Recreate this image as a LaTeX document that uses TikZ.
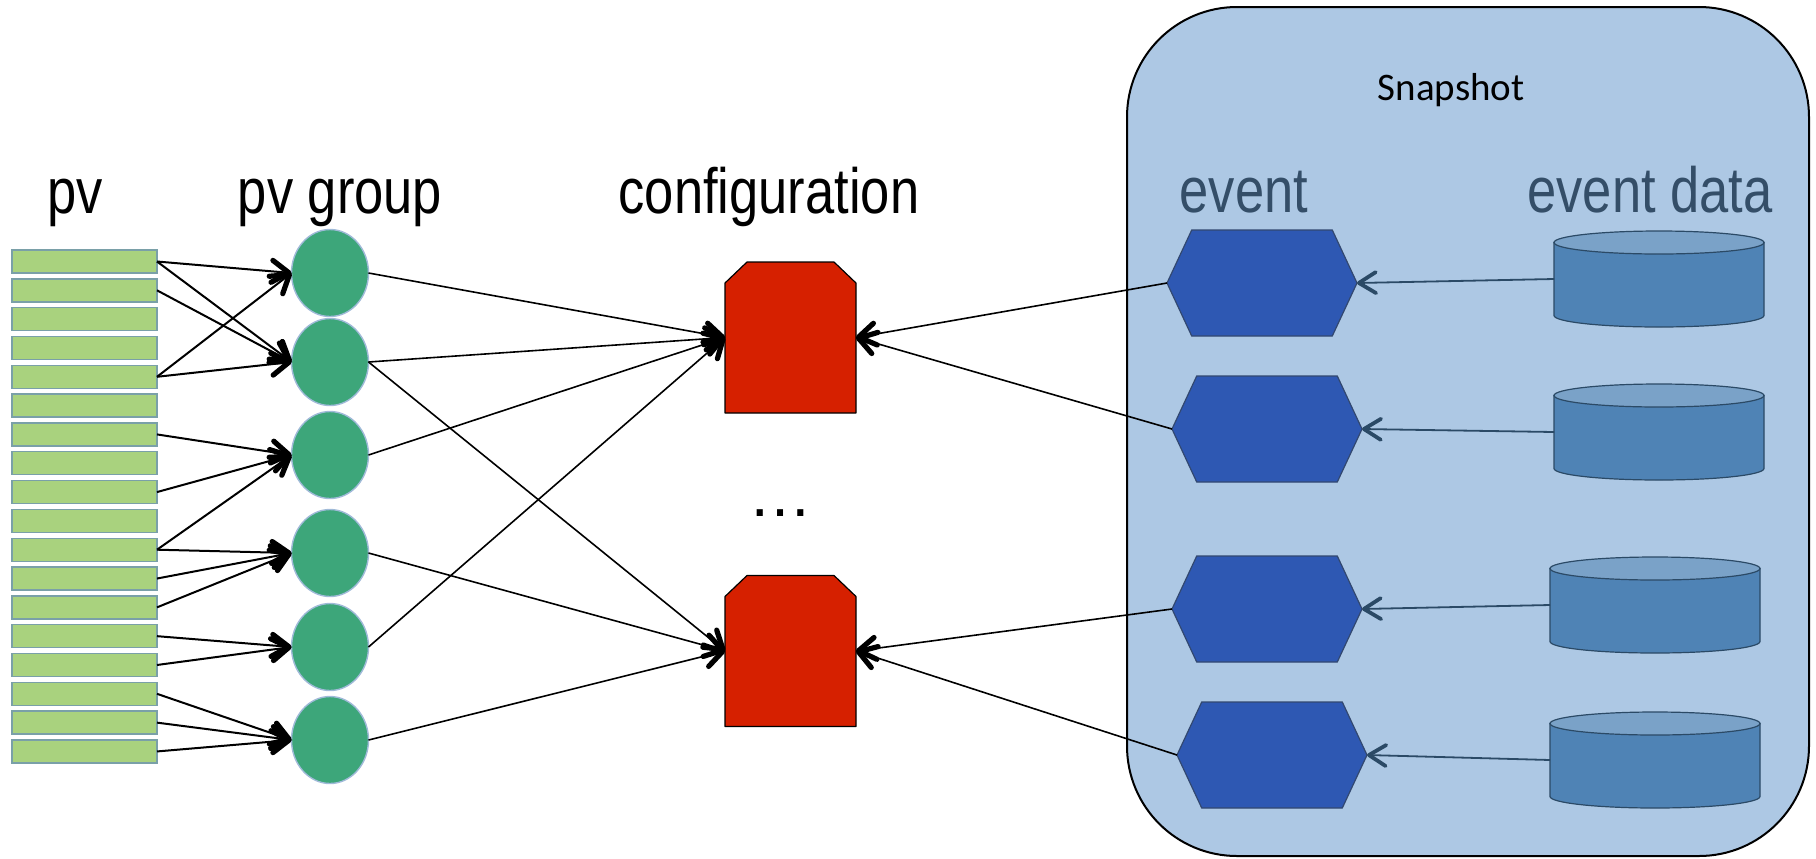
\documentclass[tikz,border=0pt]{standalone}
\usepackage{fontspec}
\usetikzlibrary{arrows.meta,shapes.geometric,shapes.symbols}
\newfontfamily\labelfont{Liberation Sans}[FakeStretch=0.82]
\newfontfamily\plainfont{Liberation Sans}
\newfontfamily\boxfont{Carlito}
\definecolor{pvfill}{RGB}{169,210,126}
\definecolor{pvborder}{RGB}{122,160,168}
\definecolor{groupfill}{RGB}{61,166,122}
\definecolor{groupborder}{RGB}{160,186,216}
\definecolor{conffill}{RGB}{214,32,0}
\definecolor{snapfill}{RGB}{173,200,228}
\definecolor{eventfill}{RGB}{46,88,179}
\definecolor{eventborder}{RGB}{50,72,112}
\definecolor{databody}{RGB}{79,131,181}
\definecolor{dataend}{RGB}{122,162,200}
\definecolor{databorder}{RGB}{43,74,102}
\definecolor{eventtext}{RGB}{52,78,104}
\tikzset{
  pvbar/.style={draw=pvborder, fill=pvfill, line width=0.7pt, minimum width=72.5pt, minimum height=11.5pt, inner sep=0pt, outer sep=0pt},
  group/.style={ellipse, draw=groupborder, fill=groupfill, line width=0.7pt, minimum width=38.5pt, minimum height=43.5pt, inner sep=0pt, outer sep=0pt},
  config/.style={rectangle, minimum width=65.5pt, minimum height=75.5pt, inner sep=0pt, outer sep=0pt},
  configshape/.style={draw=black, fill=conffill, line width=0.6pt, line join=round},
  event/.style={signal, signal to=east and west, signal pointer angle=130, draw=eventborder, fill=eventfill, line width=0.6pt, minimum width=95pt, minimum height=53pt, inner sep=0pt, outer sep=0pt},
  data/.style={rectangle, minimum width=105pt, minimum height=48pt, inner sep=0pt, outer sep=0pt},
  datashape/.style={draw=databorder, line width=0.6pt},
  toplabel/.style={anchor=base, font=\labelfont\fontsize{32}{38}\selectfont},
  pvlink/.style={line width=1pt, -{Straight Barb[length=8.5pt, width=11pt, line width=2.6pt, round]}},
  conflink/.style={line width=0.8pt, -{Straight Barb[length=8.5pt, width=11pt, line width=2.6pt, round]}},
  datalink/.style={databorder, line width=0.9pt, -{Straight Barb[length=8.5pt, width=10.5pt, line width=1.9pt, round]}}
}

\begin{document}
\begin{tikzpicture}[x=0.5pt, y=-0.5pt]
  \useasboundingbox (0,0) rectangle (1816,858);

  % === SNAPSHOT BOX ===
  \draw[fill=snapfill, line width=1pt, rounded corners=55pt] (1127,7) rectangle (1809,856);
  \node[anchor=base, font=\boxfont\fontsize{19.5}{24}\selectfont] (snaplabel) at (1451,100) {Snapshot};

  % === LABELS ===
  \node[toplabel] (pvlabel) at (75,213) {pv};
  \node[toplabel] (grouplabel) at (340,213) {pv group};
  \node[toplabel] (conflabel) at (769,213) {configuration};
  \node[toplabel, text=eventtext] (eventlabel) at (1244,212) {event};
  \node[toplabel, text=eventtext] (datalabel) at (1650,212) {event data};
  \node[anchor=base, font=\plainfont\fontsize{32}{38}\selectfont] (moreconf) at (780,516) {…};

  % pv bars
  \foreach \i in {0,...,17}
    \node[pvbar] (pv\i) at (84.5,261.5+28.82*\i) {};

  % pv groups
  \foreach \y [count=\i from 0] in {273,362,455,553,647,740}
    \node[group] (g\i) at (330,\y) {};

  % configurations, top corners cut
  \node[config] (conf0) at (790.5,337.5) {};
  \node[config] (conf1) at (790.5,651) {};
  \foreach \c in {conf0,conf1}
    \filldraw[configshape] (\c.south west) -- ([yshift=-10.5pt]\c.north west)
      -- ([xshift=11pt]\c.north west) -- ([xshift=-11pt]\c.north east)
      -- ([yshift=-10.5pt]\c.north east) -- (\c.south east) -- cycle;

  % events and event data
  \foreach \x/\y [count=\i from 0] in {1262/283,1267/429,1267/609,1272/755}
    \node[event] (ev\i) at (\x,\y) {};
  \foreach \x/\y [count=\i from 0] in {1659/279,1659/432,1655/605,1655/760} {
    \node[data] (ed\i) at (\x,\y) {};
    \begin{scope}[shift={(ed\i.center)}]
      \filldraw[datashape, fill=databody] (-52.5pt,18.25pt) -- (-52.5pt,-18.25pt)
        arc[start angle=180, end angle=360, x radius=52.5pt, y radius=5.75pt]
        -- (52.5pt,18.25pt) -- cycle;
      \filldraw[datashape, fill=dataend] (0pt,18.25pt) ellipse[x radius=52.5pt, y radius=5.75pt];
    \end{scope}
  }

  % === CONNECTIONS ===
  \foreach \p/\g in {0/0,0/1,1/1,4/0,4/1,6/2,8/2,10/2,10/3,11/3,12/3,13/4,14/4,15/5,16/5,17/5}
    \draw[pvlink] (pv\p.east) -- (g\g.west);
  \foreach \g/\c in {0/0,1/0,1/1,2/0,3/1,4/0,5/1}
    \draw[conflink] (g\g.east) -- (conf\c.west);
  \foreach \e/\c in {0/0,1/0,2/1,3/1}
    \draw[conflink] (ev\e.west) -- (conf\c.east);
  \foreach \i in {0,...,3}
    \draw[datalink] (ed\i.west) -- (ev\i.east);
\end{tikzpicture}
\end{document}
